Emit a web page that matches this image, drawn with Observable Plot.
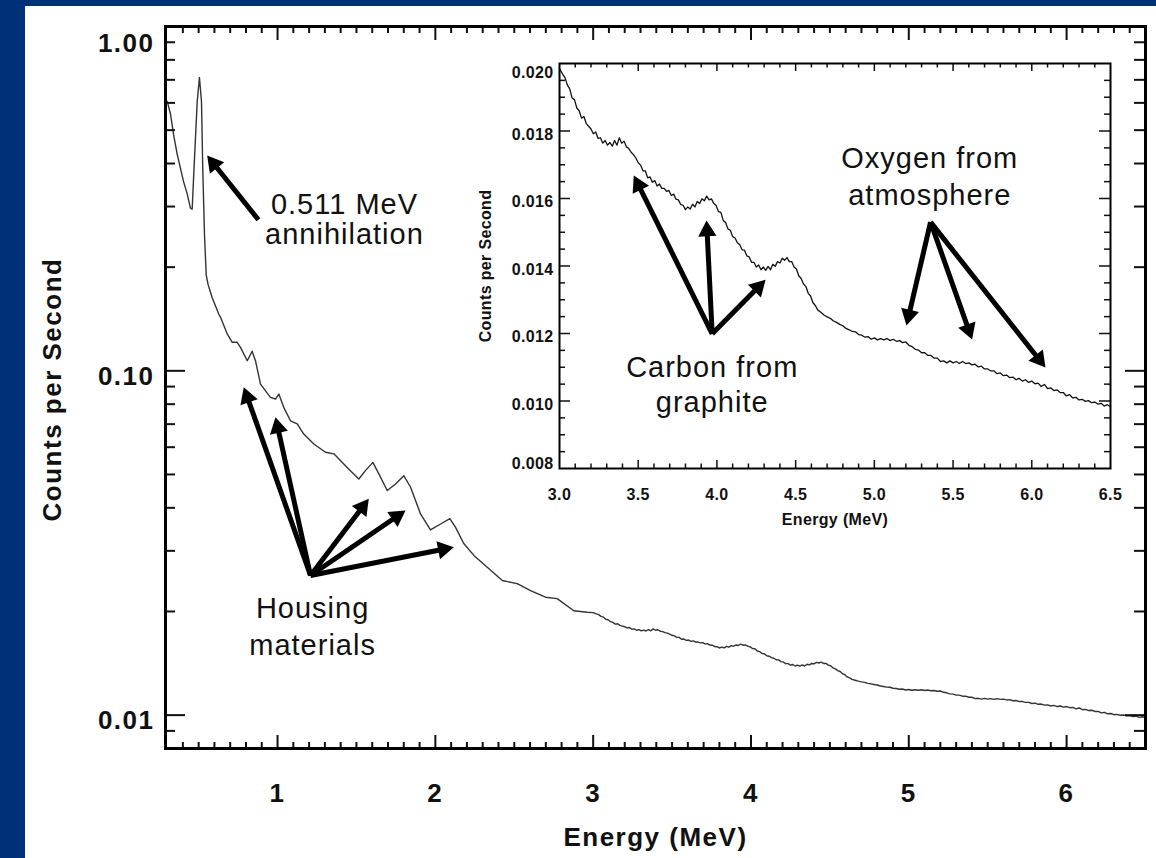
<!DOCTYPE html>
<html><head><meta charset="utf-8">
<script src="https://cdn.jsdelivr.net/npm/d3@7"></script>
<script src="https://cdn.jsdelivr.net/npm/@observablehq/plot@0.6"></script>
<style>
html,body{margin:0;padding:0;background:#fff;overflow:hidden;}
::-webkit-scrollbar{display:none;width:0;height:0;}
body{width:1156px;height:858px;position:relative;font-family:"Liberation Sans",Arial,Helvetica,sans-serif;}
#base{position:fixed;left:0;top:0;width:100vw;height:100vh;background:#fff;}
#barTop{position:absolute;left:0;top:0;width:1156px;height:6px;background:#003078;}
#barLeft{position:absolute;left:0;top:0;width:25px;height:858px;background:#003078;}
#coverRight{position:fixed;left:1147px;top:6px;width:40px;height:900px;background:#fff;z-index:50;}
#main{position:absolute;left:25px;top:6px;line-height:0;}
#inset{position:absolute;left:470px;top:50px;line-height:0;}
svg{display:block;}
</style></head><body>
<div id="base"></div><div id="barTop"></div><div id="barLeft"></div><div id="main"></div><div id="inset"></div><div id="coverRight"></div>
<script>
// ---------- data (energy MeV, counts per second) ----------
const lowSpectrum = [[0.301,0.606],[0.322,0.556],[0.341,0.486],[0.364,0.426],[0.404,0.355],[0.428,0.326],[0.448,0.297],[0.459,0.295],[0.469,0.372],[0.491,0.606],[0.505,0.711],[0.518,0.606],[0.526,0.388],[0.537,0.249],[0.548,0.190],[0.560,0.178],[0.586,0.163],[0.628,0.146],[0.639,0.143],[0.681,0.128],[0.713,0.121],[0.744,0.121],[0.765,0.117],[0.808,0.107],[0.839,0.114],[0.860,0.107],[0.892,0.0915],[0.955,0.0837],[0.987,0.0828],[1.008,0.0856],[1.040,0.0782],[1.082,0.0716],[1.125,0.0701],[1.166,0.0655],[1.230,0.0613],[1.304,0.0580],[1.357,0.0574],[1.441,0.0524],[1.515,0.0485],[1.557,0.0513],[1.604,0.0542],[1.642,0.0502],[1.695,0.0449],[1.748,0.0469],[1.800,0.0496],[1.843,0.0459],[1.906,0.0384],[1.969,0.0345],[2.033,0.0359],[2.092,0.0372],[2.128,0.0351],[2.180,0.0315],[2.244,0.0291],[2.329,0.0269],[2.424,0.0246],[2.519,0.0241],[2.603,0.0230],[2.698,0.0220],[2.772,0.0218],[2.877,0.0201],[2.962,0.0199]];
const highSpectrum = [[3.00,0.01985],[3.02,0.01968],[3.035,0.01958],[3.05,0.01936],[3.065,0.01925],[3.08,0.01898],[3.095,0.01893],[3.11,0.01868],[3.125,0.01860],[3.14,0.01838],[3.155,0.01843],[3.17,0.01822],[3.185,0.01814],[3.20,0.01806],[3.215,0.01792],[3.23,0.01797],[3.245,0.01778],[3.26,0.01780],[3.275,0.01764],[3.29,0.01772],[3.305,0.01758],[3.32,0.01766],[3.335,0.01755],[3.35,0.01772],[3.365,0.01758],[3.38,0.01780],[3.395,0.01764],[3.41,0.01770],[3.425,0.01753],[3.44,0.01748],[3.455,0.01737],[3.47,0.01730],[3.485,0.01720],[3.50,0.01706],[3.515,0.01699],[3.53,0.01682],[3.545,0.01682],[3.56,0.01661],[3.575,0.01664],[3.59,0.01648],[3.605,0.01653],[3.62,0.01637],[3.635,0.01643],[3.65,0.01630],[3.665,0.01630],[3.68,0.01621],[3.695,0.01624],[3.71,0.01609],[3.725,0.01613],[3.74,0.01598],[3.755,0.01596],[3.77,0.01582],[3.785,0.01580],[3.80,0.01567],[3.815,0.01575],[3.83,0.01569],[3.845,0.01583],[3.86,0.01575],[3.875,0.01591],[3.89,0.01585],[3.905,0.01599],[3.92,0.01593],[3.935,0.01607],[3.95,0.01596],[3.965,0.01599],[3.98,0.01585],[3.995,0.01579],[4.01,0.01561],[4.025,0.01559],[4.04,0.01535],[4.055,0.01529],[4.07,0.01510],[4.085,0.01506],[4.10,0.01487],[4.115,0.01483],[4.13,0.01469],[4.145,0.01463],[4.16,0.01448],[4.175,0.01447],[4.19,0.01430],[4.205,0.01427],[4.22,0.01411],[4.235,0.01411],[4.25,0.01397],[4.265,0.01403],[4.28,0.01389],[4.295,0.01397],[4.31,0.01387],[4.325,0.01399],[4.34,0.01389],[4.355,0.01405],[4.37,0.01399],[4.385,0.01413],[4.40,0.01409],[4.415,0.01423],[4.43,0.01417],[4.445,0.01425],[4.46,0.01413],[4.475,0.01413],[4.49,0.01397],[4.505,0.01391],[4.52,0.01371],[4.535,0.01363],[4.55,0.01347],[4.565,0.01339],[4.58,0.01319],[4.595,0.01311],[4.61,0.01291],[4.625,0.01283],[4.64,0.01270],[4.66,0.01263],[4.68,0.01255],[4.70,0.01249],[4.72,0.01245],[4.74,0.01237],[4.76,0.01233],[4.78,0.01227],[4.80,0.01223],[4.82,0.01215],[4.84,0.01211],[4.86,0.01206],[4.88,0.01205],[4.90,0.01197],[4.92,0.01195],[4.94,0.01189],[4.96,0.01191],[4.98,0.01183],[5.00,0.01187],[5.02,0.01181],[5.04,0.01185],[5.06,0.01181],[5.08,0.01185],[5.10,0.01179],[5.12,0.01183],[5.14,0.01177],[5.16,0.01179],[5.18,0.01173],[5.20,0.01175],[5.22,0.01165],[5.24,0.01161],[5.26,0.01153],[5.28,0.01151],[5.30,0.01143],[5.32,0.01143],[5.34,0.01135],[5.36,0.01135],[5.38,0.01127],[5.40,0.01127],[5.42,0.01117],[5.44,0.01119],[5.46,0.01113],[5.48,0.01119],[5.50,0.01113],[5.52,0.01117],[5.54,0.01111],[5.56,0.01117],[5.58,0.01111],[5.60,0.01113],[5.62,0.01107],[5.64,0.01109],[5.66,0.01101],[5.68,0.01103],[5.70,0.01095],[5.72,0.01095],[5.74,0.01089],[5.76,0.01089],[5.78,0.01081],[5.80,0.01083],[5.82,0.01075],[5.84,0.01077],[5.86,0.01069],[5.88,0.01071],[5.90,0.01063],[5.92,0.01067],[5.94,0.01059],[5.96,0.01063],[5.98,0.01055],[6.00,0.01059],[6.02,0.01051],[6.04,0.01053],[6.06,0.01043],[6.08,0.01049],[6.10,0.01037],[6.12,0.01039],[6.14,0.01031],[6.16,0.01033],[6.18,0.01025],[6.20,0.01025],[6.22,0.01015],[6.24,0.01019],[6.26,0.01009],[6.28,0.01011],[6.30,0.01003],[6.32,0.01005],[6.34,0.00999],[6.36,0.01001],[6.38,0.00995],[6.40,0.00997],[6.42,0.00991],[6.44,0.00993],[6.46,0.00985],[6.48,0.00989],[6.50,0.00983]];

const mainXTickLabels = [1, 2, 3, 4, 5, 6];
const mainYTopLabel = [1];
const mainYTickLabels = [0.1, 0.01];
const insetXTickLabels = [3.0, 3.5, 4.0, 4.5, 5.0, 5.5, 6.0, 6.5];
const insetYTopLabel = [0.020];
const insetYTickLabels = [0.010, 0.012, 0.014, 0.016, 0.018];
const insetYBottomLabel = [0.008];

// annotations: arrows (tail -> tip) and text blocks in data units
const annihilationArrows = [{x1: 0.879, y1: 0.2746, x2: 0.554, y2: 0.4219}];
const housingArrows = [
  {x1: 1.209, y1: 0.02544, x2: 0.786, y2: 0.0896},
  {x1: 1.209, y1: 0.02544, x2: 0.987, y2: 0.0733},
  {x1: 1.209, y1: 0.02544, x2: 1.578, y2: 0.04248},
  {x1: 1.209, y1: 0.02544, x2: 1.811, y2: 0.03929},
  {x1: 1.209, y1: 0.02544, x2: 2.117, y2: 0.03074}
];
const carbonArrows = [
  {x1: 3.970, y1: 0.01199, x2: 3.472, y2: 0.01668},
  {x1: 3.970, y1: 0.01199, x2: 3.934, y2: 0.01535},
  {x1: 3.970, y1: 0.01199, x2: 4.309, y2: 0.01359}
];
const oxygenArrows = [
  {x1: 5.357, y1: 0.01530, x2: 5.204, y2: 0.01224},
  {x1: 5.357, y1: 0.01530, x2: 5.621, y2: 0.01182},
  {x1: 5.357, y1: 0.01530, x2: 6.087, y2: 0.01099}
];
const annihilationNote = [{x: 1.424, y: 0.2333, text: "0.511 MeV\nannihilation"}];
const housingNote = [{x: 1.222, y: 0.01500, text: "Housing\nmaterials"}];
const carbonNote = [{x: 3.970, y: 0.009668, text: "Carbon from\ngraphite"}];
const oxygenNote = [{x: 5.352, y: 0.015793, text: "Oxygen from\natmosphere"}];

// ---------- helpers ----------
const FONT = "Liberation Sans, Arial, Helvetica, sans-serif";
const HEAD_R = 6.8;
const TIP = 2 * Math.sqrt(Math.PI * HEAD_R * HEAD_R / (3 * Math.sqrt(3)));

function arrowMarks(plot, arrows) {
  const sx = plot.scale("x"), sy = plot.scale("y");
  const heads = arrows.map(a => {
    const px1 = sx.apply(a.x1), py1 = sy.apply(a.y1);
    const px2 = sx.apply(a.x2), py2 = sy.apply(a.y2);
    const L = Math.hypot(px2 - px1, py2 - py1);
    const ux = (px2 - px1) / L, uy = (py2 - py1) / L;
    return {
      x1: a.x1, y1: a.y1,
      x: sx.invert(px2 - ux * TIP), y: sy.invert(py2 - uy * TIP),
      angle: Math.atan2(ux, -uy) * 180 / Math.PI
    };
  });
  return [
    Plot.link(heads, {x1: "x1", y1: "y1", x2: "x", y2: "y", stroke: "black", strokeWidth: 5, strokeLinecap: "butt"}),
    Plot.dot(heads, {x: "x", y: "y", symbol: "triangle", r: HEAD_R, fill: "black", rotate: "angle"})
  ];
}

function spacing(svg) {
  svg.querySelectorAll("g[font-size]").forEach(g => {
    const fs = +g.getAttribute("font-size");
    const bold = g.getAttribute("font-weight") === "bold";
    g.setAttribute("letter-spacing", bold ? (fs >= 20 ? 1.5 : 0.35) : 1);
  });
}

// ---------- main plot ----------
const MW = 1131, MH = 852, MML = 140, MMR = 11, MMT = 20, MMB = 110;
const MFW = MW - MML - MMR, MFH = MH - MMT - MMB;
const mainSpectrum = lowSpectrum.concat(highSpectrum);
const mainXMajor = mainXTickLabels;
const mainXMinor = d3.range(4, 65).map(i => i / 10).filter(v => Math.round(v * 10) % 10 !== 0);
const mainYMajor = [0.1, 0.01];
const mainYMinor = [0.008, 0.009].concat(d3.range(2, 10).map(k => k * 0.01), d3.range(2, 10).map(k => k * 0.1));

function mainPlot(extra) {
  return Plot.plot({
    width: MW, height: MH,
    marginLeft: MML, marginRight: MMR, marginTop: MMT, marginBottom: MMB,
    x: {domain: [0.29, 6.5], axis: null},
    y: {type: "log", domain: [0.008, 1], axis: null},
    style: {fontFamily: FONT, background: "white", color: "#111"},
    marks: [
      Plot.line(mainSpectrum, {x: d => d[0], y: d => d[1], stroke: "#333", strokeWidth: 1.4}),
      // ticks
      Plot.ruleX(mainXMajor, {x: d => d, insetTop: MFH - 13, strokeWidth: 2}),
      Plot.ruleX(mainXMinor, {x: d => d, insetTop: MFH - 6, strokeWidth: 2}),
      Plot.ruleX(mainXMajor, {x: d => d, insetBottom: MFH - 14, strokeWidth: 2}),
      Plot.ruleX(mainXMinor, {x: d => d, insetBottom: MFH - 7, strokeWidth: 2}),
      Plot.ruleY(mainYMajor, {y: d => d, insetRight: MFW - 20, strokeWidth: 2}),
      Plot.ruleY(mainYMinor, {y: d => d, insetRight: MFW - 10, strokeWidth: 2}),
      Plot.ruleY(mainYMajor, {y: d => d, insetLeft: MFW - 20, strokeWidth: 2}),
      Plot.ruleY(mainYMinor, {y: d => d, insetLeft: MFW - 11, strokeWidth: 2}),
      Plot.frame({stroke: "black", strokeWidth: 3}),
      // tick labels
      Plot.text(mainXTickLabels, {x: d => d, text: d => String(d), frameAnchor: "bottom", lineAnchor: "top", dy: 35, fontSize: 26, fontWeight: "bold"}),
      Plot.text(mainYTopLabel, {y: d => d, text: d => d.toFixed(2), frameAnchor: "left", textAnchor: "end", dx: -11, dy: 17, fontSize: 26, fontWeight: "bold"}),
      Plot.text(mainYTickLabels, {y: d => d, text: d => d.toFixed(2), frameAnchor: "left", textAnchor: "end", dx: -11, dy: 6, fontSize: 26, fontWeight: "bold"}),
      // axis titles
      Plot.text(["Energy (MeV)"], {frameAnchor: "bottom", textAnchor: "middle", lineAnchor: "bottom", dy: 97, fontSize: 26, fontWeight: "bold"}),
      Plot.text(["Counts per Second"], {frameAnchor: "left", textAnchor: "middle", rotate: -90, dx: -113, dy: 2, fontSize: 26, fontWeight: "bold"}),
      // notes
      Plot.text(annihilationNote, {x: "x", y: "y", text: "text", lineAnchor: "bottom", lineHeight: 1.05, fontSize: 29}),
      Plot.text(housingNote, {x: "x", y: "y", text: "text", lineAnchor: "bottom", lineHeight: 1.27, fontSize: 29}),
      ...extra
    ]
  });
}
const mainDraft = mainPlot([]);
const mainFinal = mainPlot([...arrowMarks(mainDraft, annihilationArrows), ...arrowMarks(mainDraft, housingArrows)]);
spacing(mainFinal);
document.getElementById("main").append(mainFinal);

// ---------- inset plot ----------
const IW = 660, IH = 490, IML = 89, IMR = 20, IMT = 13, IMB = 72;
const IFW = IW - IML - IMR, IFH = IH - IMT - IMB;
const insetXMajor = [3.5, 4.0, 4.5, 5.0, 5.5, 6.0];
const insetXMinor = d3.range(31, 65).map(i => i / 10).filter(v => Math.round(v * 10) % 5 !== 0);
const insetYMajor = insetYTickLabels;
const insetYMinor = d3.range(17, 40).filter(i => i % 4 !== 0).map(i => i * 0.0005);

function insetPlot(extra) {
  return Plot.plot({
    width: IW, height: IH,
    marginLeft: IML, marginRight: IMR, marginTop: IMT, marginBottom: IMB,
    x: {domain: [3.0, 6.5], axis: null},
    y: {domain: [0.008, 0.020], axis: null},
    style: {fontFamily: FONT, background: "transparent", color: "#111"},
    marks: [
      Plot.line(highSpectrum, {x: d => d[0], y: d => d[1], stroke: "#111", strokeWidth: 1.3}),
      Plot.ruleX(insetXMajor, {x: d => d, insetTop: IFH - 8, strokeWidth: 1.5}),
      Plot.ruleX(insetXMinor, {x: d => d, insetTop: IFH - 4.5, strokeWidth: 1.5}),
      Plot.ruleX(insetXMajor, {x: d => d, insetBottom: IFH - 8, strokeWidth: 1.5}),
      Plot.ruleX(insetXMinor, {x: d => d, insetBottom: IFH - 4.5, strokeWidth: 1.5}),
      Plot.ruleY(insetYMajor, {y: d => d, insetRight: IFW - 11, strokeWidth: 1.5}),
      Plot.ruleY(insetYMinor, {y: d => d, insetRight: IFW - 6, strokeWidth: 1.5}),
      Plot.ruleY(insetYMajor, {y: d => d, insetLeft: IFW - 11, strokeWidth: 1.5}),
      Plot.ruleY(insetYMinor, {y: d => d, insetLeft: IFW - 6, strokeWidth: 1.5}),
      Plot.frame({stroke: "black", strokeWidth: 2}),
      Plot.text(insetXTickLabels, {x: d => d, text: d => d.toFixed(1), frameAnchor: "bottom", lineAnchor: "top", dy: 20.5, fontSize: 16, fontWeight: "bold"}),
      Plot.text(insetYTopLabel, {y: d => d, text: d => d.toFixed(3), frameAnchor: "left", textAnchor: "end", dx: -6, dy: 9.6, fontSize: 16, fontWeight: "bold"}),
      Plot.text(insetYTickLabels, {y: d => d, text: d => d.toFixed(3), frameAnchor: "left", textAnchor: "end", dx: -6, dy: 3.4, fontSize: 16, fontWeight: "bold"}),
      Plot.text(insetYBottomLabel, {y: d => d, text: d => d.toFixed(3), frameAnchor: "left", textAnchor: "end", dx: -6, dy: -4.4, fontSize: 16, fontWeight: "bold"}),
      Plot.text(["Energy (MeV)"], {frameAnchor: "bottom", textAnchor: "middle", lineAnchor: "bottom", dy: 56, fontSize: 16, fontWeight: "bold"}),
      Plot.text(["Counts per Second"], {frameAnchor: "left", textAnchor: "middle", rotate: -90, dx: -73.5, fontSize: 16, fontWeight: "bold"}),
      Plot.text(carbonNote, {x: "x", y: "y", text: "text", lineAnchor: "bottom", lineHeight: 1.21, fontSize: 29}),
      Plot.text(oxygenNote, {x: "x", y: "y", text: "text", lineAnchor: "bottom", lineHeight: 1.28, fontSize: 29}),
      ...extra
    ]
  });
}
const insetDraft = insetPlot([]);
const insetFinal = insetPlot([...arrowMarks(insetDraft, carbonArrows), ...arrowMarks(insetDraft, oxygenArrows)]);
spacing(insetFinal);
document.getElementById("inset").append(insetFinal);
</script>
</body></html>
